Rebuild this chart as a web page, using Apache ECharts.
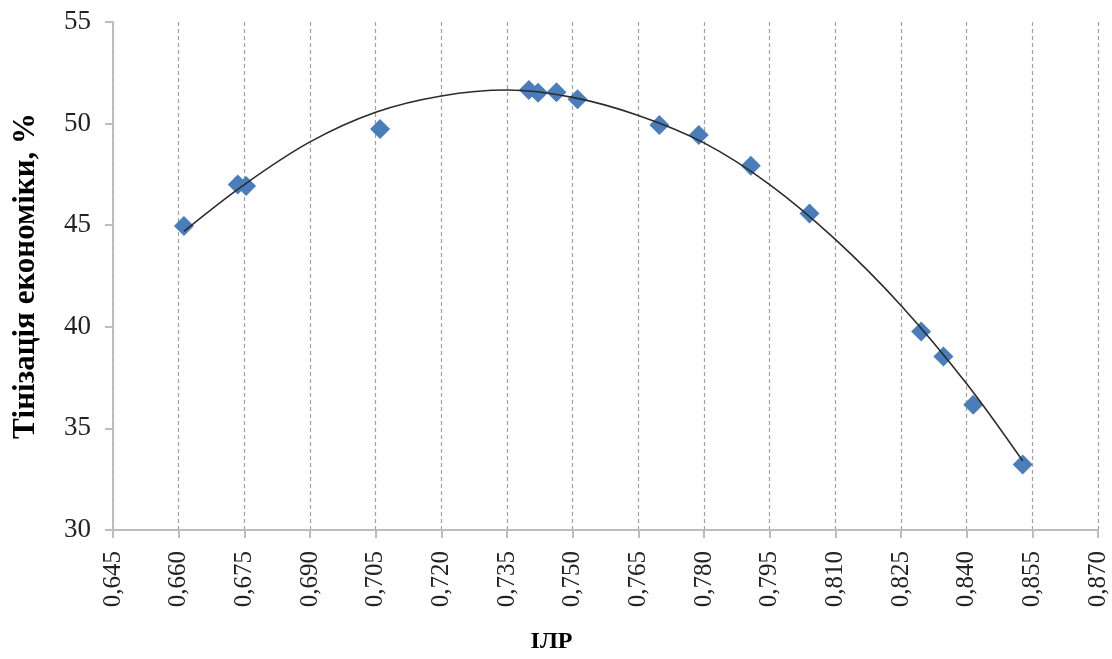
<!DOCTYPE html>
<html>
<head>
<meta charset="utf-8">
<script src="https://cdn.jsdelivr.net/npm/echarts@6/dist/echarts.min.js"></script>
<style>
html,body{margin:0;padding:0;background:#fff;}
#chart{width:1112px;height:659px;}
</style>
</head>
<body>
<div id="chart"></div>
<script>
// Observed points: ІЛР (x) and shadow economy share, % (y)
const ilrValues = [0.6612, 0.6735, 0.6754, 0.7060, 0.7400, 0.7421, 0.7463, 0.7511, 0.7698, 0.7788, 0.7907, 0.8041, 0.8296, 0.8347, 0.8415, 0.8528];
const shadowValues = [44.96, 47.0, 46.93, 49.73, 51.65, 51.52, 51.54, 51.2, 49.93, 49.44, 47.93, 45.58, 39.77, 38.54, 36.17, 33.22];

// Trend curve
const trendX = [0.6612, 0.675, 0.690, 0.705, 0.720, 0.735, 0.750, 0.765, 0.780, 0.795, 0.810, 0.825, 0.840, 0.8528];
const trendY = [44.7, 47.0, 49.1, 50.56, 51.36, 51.65, 51.29, 50.4, 49.05, 47.0, 44.3, 41.05, 37.2, 33.4];

const xMin = 0.645, xMax = 0.870, xStep = 0.015;
const yMin = 30, yMax = 55, yStep = 5;
const xTitle = 'ІЛР';
const yTitle = 'Тінізація економіки, %';

const points = ilrValues.map((x, i) => [x, shadowValues[i]]);
const trend = trendX.map((x, i) => [x, trendY[i]]);

const chart = echarts.init(document.getElementById('chart'));
const font = '"Liberation Serif", "Times New Roman", serif';
chart.setOption({
  animation: false,
  grid: {left: 113, right: 14, top: 22, bottom: 129, outerBoundsMode: 'none', containLabel: false},
  xAxis: {
    type: 'value', min: xMin, max: xMax, interval: xStep,
    name: xTitle, nameLocation: 'middle', nameGap: 100,
    nameTextStyle: {fontFamily: font, fontWeight: 'bold', fontSize: 24, color: '#000', padding: [0, 108, 0, 0]},
    axisLine: {show: true, lineStyle: {color: '#bdbdbd', width: 2}},
    axisTick: {show: true, length: 8, lineStyle: {color: '#bdbdbd', width: 2}},
    axisLabel: {rotate: 90, margin: 21, fontFamily: font, fontSize: 25, color: '#222',
      formatter: v => v.toFixed(3).replace('.', ',')},
    splitLine: {show: true, lineStyle: {color: '#a0a0a0', type: [4, 3], width: 1.2}}
  },
  yAxis: {
    type: 'value', min: yMin, max: yMax, interval: yStep,
    name: yTitle, nameLocation: 'middle', nameGap: 72,
    nameTextStyle: {fontFamily: font, fontWeight: 'bold', fontSize: 31, color: '#000'},
    axisLine: {show: true, lineStyle: {color: '#bdbdbd', width: 2}},
    axisTick: {show: true, length: 8, lineStyle: {color: '#bdbdbd', width: 2}},
    axisLabel: {margin: 22, fontFamily: font, fontSize: 27, color: '#222'},
    splitLine: {show: false}
  },
  series: [
    {
      type: 'scatter', data: points, symbol: 'diamond', symbolSize: 20,
      itemStyle: {color: '#4a7ebb', opacity: 1}, z: 2
    },
    {
      type: 'line', data: trend, smooth: 0.35, showSymbol: false,
      lineStyle: {color: '#2b2b2b', width: 1.6}, z: 3
    }
  ]
});
</script>
</body>
</html>
